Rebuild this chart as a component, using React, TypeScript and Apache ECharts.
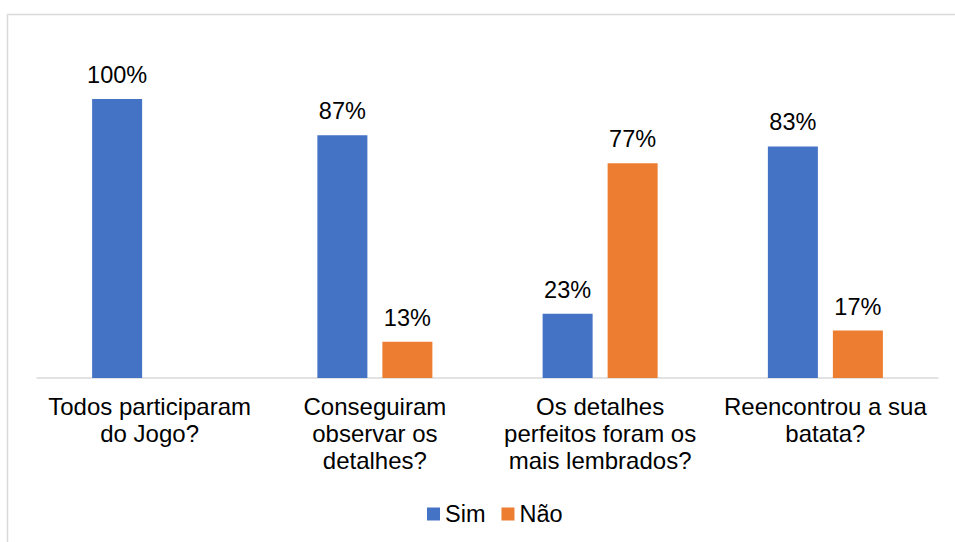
import React, { useEffect, useRef } from "react";
import * as echarts from "echarts";

const categories = [
  "Todos participaram\ndo Jogo?",
  "Conseguiram\nobservar os\ndetalhes?",
  "Os detalhes\nperfeitos foram os\nmais lembrados?",
  "Reencontrou a sua\nbatata?",
];
const simValues = [100, 87, 23, 83];
const naoValues = [0, 13, 77, 17];
const seriesNames = ["Sim", "Não"];

const FONT = "'Liberation Sans', Arial, sans-serif";

export default function App() {
  const ref = useRef<HTMLDivElement>(null);
  useEffect(() => {
    if (!ref.current) return;
    const chart = echarts.init(ref.current, undefined, { renderer: "svg" });
    const label = {
      show: true,
      position: "top",
      distance: 12,
      fontSize: 23.5,
      lineHeight: 24,
      color: "#000",
      fontFamily: FONT,
      formatter: (p: any) => (p.value ? p.value + "%" : ""),
    };
    chart.setOption({
      animation: false,
      backgroundColor: "#fff",
      graphic: [
        {
          type: "rect",
          shape: { x: 7.5, y: 14.5, width: 1000, height: 600 },
          style: { fill: "none", stroke: "#d9d9d9", lineWidth: 1.5 },
          silent: true,
        },
      ],
      grid: { left: 37, right: 17, top: 99, bottom: 164, containLabel: false },
      legend: {
        data: seriesNames,
        top: 497,
        left: 422,
        itemWidth: 13,
        itemHeight: 13,
        itemGap: 16,
        icon: "rect",
        textStyle: { fontSize: 23.5, color: "#000", fontFamily: FONT },
      },
      xAxis: {
        type: "category",
        data: categories,
        axisLine: { lineStyle: { color: "#d9d9d9", width: 1.5 } },
        axisTick: { show: false },
        axisLabel: {
          interval: 0,
          margin: 15,
          fontSize: 24,
          lineHeight: 27,
          color: "#000",
          fontFamily: FONT,
        },
      },
      yAxis: {
        type: "value",
        min: 0,
        max: 100,
        show: false,
        splitLine: { show: false },
      },
      series: [
        {
          name: seriesNames[0],
          type: "bar",
          data: simValues,
          barWidth: 50,
          barGap: "30%",
          itemStyle: { color: "#4472c4" },
          label,
        },
        {
          name: seriesNames[1],
          type: "bar",
          data: naoValues,
          barWidth: 50,
          itemStyle: { color: "#ed7d31" },
          label,
        },
      ],
    });
    return () => chart.dispose();
  }, []);
  return (
    <div
      ref={ref}
      style={{ position: "fixed", left: 0, top: 0, width: 955, height: 542 }}
    />
  );
}
